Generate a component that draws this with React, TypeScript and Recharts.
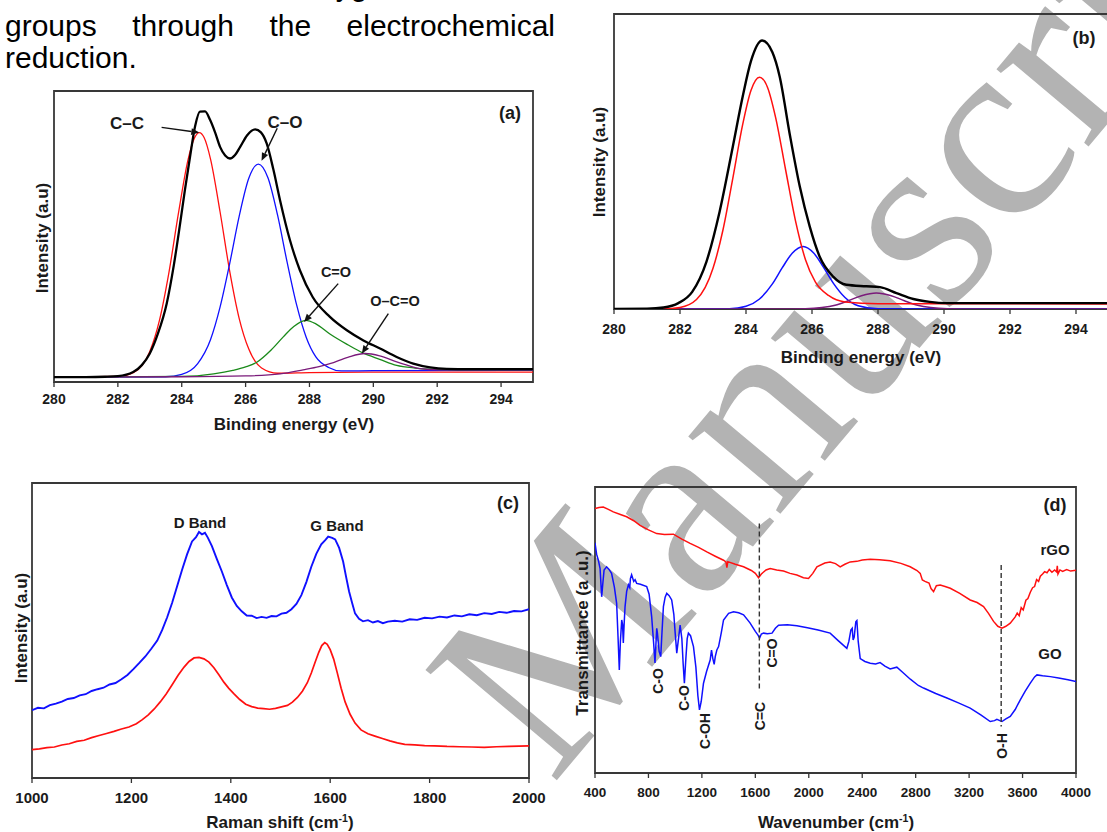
import React from 'react';
import { LineChart, Line, XAxis, YAxis, ReferenceArea, ReferenceLine } from 'recharts';

type Pt = [number, number];

const SANS = "'Liberation Sans', Arial, sans-serif";

// ---- (a) XPS C1s, GO : binding energy (eV) vs intensity (a.u., 0-100 of frame)
const xpsTicks = [280, 282, 284, 286, 288, 290, 292, 294];

const aEnvelope: Pt[] = [
  [280, 1.7], [281, 1.7], [281.6, 1.8], [282, 2.0], [282.48, 3.4], [282.75, 5.8], [283, 9.8], [283.25, 16.5],
  [283.53, 27], [283.75, 40], [283.95, 54.5], [284.1, 66], [284.26, 77.4], [284.42, 88], [284.57, 92.9],
  [284.73, 93], [284.89, 90], [285.05, 85.6], [285.2, 80.8], [285.36, 77.8], [285.51, 76.8], [285.67, 78],
  [285.83, 80.8], [286.05, 84.8], [286.3, 86.8], [286.48, 85.8], [286.66, 82], [286.87, 73], [287.08, 62.4],
  [287.39, 48.7], [287.7, 38.4], [288.1, 29.2], [288.64, 22.4], [289.17, 17.8], [289.69, 14.3], [290.21, 11.5],
  [290.73, 8.6], [291.25, 6.3], [291.78, 5.0], [292.3, 4.5], [293, 4.4], [295, 4.4],
];
const aCC: Pt[] = [
  [280, 1.7], [282, 1.9], [282.5, 3.3], [283, 10.5], [283.3, 21.1], [283.6, 37.7], [283.9, 58.2], [284.2, 76.5],
  [284.4, 83.9], [284.55, 85.7], [284.7, 84.0], [284.9, 76.7], [285.2, 58.5], [285.5, 38.2], [285.8, 21.8],
  [286.1, 11.3], [286.5, 4.8], [287, 3.0], [288, 3.2], [290, 3.4], [295, 3.4],
];
const aCO: Pt[] = [
  [280, 1.7], [283.5, 1.8], [284, 2.6], [284.5, 6.3], [284.9, 14.5], [285.2, 25.7], [285.5, 40.6], [285.8, 57.0],
  [286.1, 70.0], [286.4, 74.9], [286.7, 70.2], [287.0, 57.4], [287.3, 41.2], [287.6, 26.4], [287.9, 15.3],
  [288.2, 8.6], [288.6, 5.0], [289, 3.8], [290, 3.9], [295, 4.0],
];
const aCdO: Pt[] = [
  [280, 1.7], [284, 1.9], [285, 2.8], [285.6, 4.0], [286.0, 5.2], [286.35, 6.8], [286.8, 11.0], [287.18, 15.5],
  [287.5, 19.0], [287.88, 21.2], [288.2, 20.0], [288.64, 16.5], [289.2, 12.8], [289.69, 9.9], [290.2, 7.8],
  [290.73, 5.7], [291.3, 4.8], [291.78, 4.4], [292.5, 4.2], [295, 4.2],
];
const aOCO: Pt[] = [
  [280, 1.7], [284, 1.8], [286, 2.1], [287.08, 2.8], [287.8, 4.2], [288.3, 5.3], [288.64, 6.3], [289.2, 8.5],
  [289.74, 9.8], [290.2, 9.0], [290.73, 6.9], [291.1, 5.6], [291.46, 4.6], [292, 4.2], [295, 4.2],
];

// ---- (b) XPS C1s, rGO
const bEnvelope: Pt[] = [
  [280, 0], [281, 0.1], [281.5, 0.5], [281.95, 2.0], [282.37, 5.8], [282.8, 16], [283.2, 33], [283.6, 55],
  [283.9, 72], [284.15, 84], [284.49, 91], [284.8, 87], [285.02, 78.8], [285.32, 59.6], [285.63, 41.5],
  [285.93, 28], [286.23, 17.8], [286.64, 11.0], [287.04, 8.2], [287.65, 7.7], [288.06, 7.4], [288.56, 5.4],
  [289.07, 3.4], [289.57, 2.4], [290.08, 2.0], [295, 2.0],
];
const bCC: Pt[] = [
  [280, 0], [281.5, 0], [282, 0.5], [282.5, 3.2], [283, 13.8], [283.3, 26.7], [283.6, 44.3], [283.9, 62.6],
  [284.15, 74.1], [284.41, 78.6], [284.65, 75.2], [284.9, 64.8], [285.2, 47.2], [285.5, 29.9], [285.8, 16.8],
  [286.1, 9.2], [286.5, 4.6], [287, 2.4], [288, 1.8], [295, 1.7],
];
const bCO: Pt[] = [
  [280, 0], [283.5, 0.1], [284, 0.9], [284.4, 3.3], [284.8, 8.5], [285.1, 14.0], [285.4, 18.9], [285.73, 21.2],
  [286.05, 19.0], [286.35, 14.1], [286.65, 8.7], [287, 3.9], [287.4, 1.1], [288, 0.1], [289, 0], [295, 0],
];
const bCdO: Pt[] = [
  [280, 0], [285, 0], [285.8, 0.1], [286.3, 0.5], [286.7, 1.3], [287.1, 2.8], [287.5, 4.5], [287.95, 5.4],
  [288.4, 4.5], [288.8, 2.8], [289.2, 1.3], [289.6, 0.5], [290.1, 0.1], [291, 0], [295, 0],
];

// ---- (c) Raman
const ramanTicks = [1000, 1200, 1400, 1600, 1800, 2000];
const ramanGO: Pt[] = [
  [1000, 23.0], [1012, 23.8], [1024, 23.6], [1036, 24.7], [1048, 25.2], [1060, 25.9], [1072, 26.8], [1084, 27.1],
  [1096, 28.0], [1108, 28.4], [1120, 29.5], [1132, 30.1], [1144, 30.6], [1156, 31.7], [1168, 32.2], [1180, 33.5],
  [1192, 34.9], [1204, 36.9], [1216, 39.0], [1228, 41.2], [1240, 43.8], [1252, 46.6], [1262, 50.2], [1272, 54.5],
  [1282, 59.4], [1292, 65.0], [1302, 70.6], [1312, 75.8], [1322, 80.2], [1330, 81.6], [1336, 83.4], [1342, 82.6],
  [1348, 83.1], [1354, 81.4], [1362, 78.6], [1372, 74.2], [1382, 70.0], [1392, 65.4], [1402, 61.2], [1412, 58.3],
  [1422, 56.5], [1432, 55.1], [1442, 55.0], [1452, 54.2], [1462, 54.6], [1472, 54.3], [1482, 54.9], [1492, 54.8],
  [1502, 55.7], [1512, 56.0], [1522, 57.2], [1532, 59.0], [1542, 62.0], [1552, 66.4], [1562, 71.6], [1572, 76.0],
  [1582, 79.2], [1590, 80.6], [1596, 81.8], [1604, 81.4], [1610, 80.9], [1618, 78.0], [1626, 73.4], [1632, 68.2],
  [1638, 63.2], [1644, 59.4], [1650, 55.8], [1658, 54.0], [1666, 53.1], [1676, 53.5], [1686, 52.7], [1696, 53.2],
  [1706, 52.5], [1716, 53.0], [1730, 53.3], [1745, 53.0], [1760, 53.8], [1775, 53.6], [1790, 54.3], [1805, 54.1],
  [1820, 54.7], [1835, 54.4], [1850, 55.1], [1865, 54.8], [1880, 55.5], [1895, 55.2], [1910, 55.9], [1925, 55.6],
  [1940, 56.3], [1955, 56.0], [1970, 56.6], [1985, 56.5], [2000, 57.2],
];
const ramanRGO: Pt[] = [
  [1000, 9.6], [1015, 9.9], [1030, 10.3], [1045, 10.5], [1060, 11.2], [1075, 11.6], [1090, 12.4], [1105, 12.8],
  [1120, 13.7], [1135, 14.4], [1150, 15.1], [1165, 15.8], [1180, 16.6], [1195, 17.3], [1210, 18.4], [1222, 19.8],
  [1234, 21.4], [1246, 23.4], [1258, 25.8], [1270, 28.5], [1282, 31.6], [1294, 34.8], [1306, 37.6], [1316, 39.5],
  [1326, 40.7], [1336, 40.9], [1346, 40.4], [1356, 39.3], [1366, 37.4], [1376, 35.0], [1386, 32.5], [1396, 30.4],
  [1406, 28.6], [1418, 26.6], [1430, 25.0], [1442, 24.2], [1454, 23.7], [1466, 23.5], [1478, 23.3], [1490, 23.6],
  [1502, 24.1], [1514, 24.6], [1524, 25.7], [1534, 27.3], [1544, 29.4], [1554, 32.3], [1562, 35.6], [1570, 39.4],
  [1577, 42.6], [1583, 44.9], [1589, 45.9], [1594, 45.3], [1600, 43.5], [1607, 40.3], [1614, 35.8], [1622, 30.4],
  [1630, 25.8], [1640, 21.6], [1650, 18.6], [1662, 16.3], [1676, 15.0], [1690, 14.2], [1705, 13.4], [1720, 12.6],
  [1735, 11.9], [1750, 11.4], [1770, 11.2], [1790, 11.0], [1810, 10.9], [1835, 10.7], [1860, 10.6], [1885, 10.5],
  [1910, 10.4], [1935, 10.6], [1960, 10.7], [1980, 10.8], [2000, 10.9],
];

// ---- (d) FTIR
const ftirTicks = [400, 800, 1200, 1600, 2000, 2400, 2800, 3200, 3600, 4000];
const ftirRGO: Pt[] = [
  [400, 92.5], [430, 92.8], [462, 93.0], [500, 92.2], [537, 91.3], [590, 90.4], [637, 89.6], [690, 88.2],
  [737, 86.6], [800, 85.0], [862, 83.7], [920, 83.4], [987, 83.5], [1050, 81.8], [1112, 80.3], [1175, 78.9],
  [1237, 77.3], [1300, 75.8], [1362, 74.4], [1380, 73.8], [1387, 71.8], [1394, 73.9], [1450, 73.0], [1512, 72.1],
  [1570, 70.8], [1600, 69.8], [1624, 68.3], [1645, 69.6], [1680, 71.0], [1711, 71.5], [1760, 71.0], [1811, 70.6],
  [1860, 69.8], [1911, 69.2], [1960, 68.3], [1998, 68.0], [2030, 69.8], [2061, 72.1], [2120, 73.4], [2160, 73.8],
  [2200, 73.2], [2235, 72.1], [2270, 73.0], [2310, 73.8], [2360, 74.0], [2400, 74.5], [2460, 74.7], [2530, 74.6],
  [2609, 74.2], [2690, 73.3], [2759, 72.1], [2810, 70.8], [2834, 69.8], [2850, 67.5], [2870, 67.0], [2900, 66.4],
  [2915, 64.5], [2934, 63.4], [2955, 65.5], [2984, 65.7], [3020, 65.2], [3059, 64.6], [3130, 62.8], [3208, 60.5],
  [3260, 59.6], [3308, 58.2], [3345, 55.8], [3383, 53.0], [3415, 51.3], [3446, 50.6], [3475, 51.3], [3508, 52.4],
  [3545, 54.6], [3560, 55.9], [3575, 55.0], [3590, 57.8], [3605, 57.0], [3625, 60.4], [3640, 61.0], [3658, 63.2],
  [3675, 64.8], [3690, 65.2], [3705, 67.6], [3720, 67.0], [3733, 68.8], [3750, 69.6], [3765, 70.4], [3783, 70.0],
  [3800, 71.2], [3820, 70.2], [3840, 71.0], [3855, 70.3], [3860, 72.4], [3865, 69.6], [3880, 71.0], [3900, 70.5],
  [3930, 71.1], [3960, 70.6], [4000, 70.9],
];
const ftirGO: Pt[] = [
  [400, 80.5], [412, 76.5], [425, 74.4], [438, 71.5], [450, 61.6], [458, 66.0], [468, 71.0], [487, 72.1],
  [505, 71.2], [524, 69.8], [545, 65.0], [562, 59.3], [572, 48.0], [582, 36.0], [590, 46.0], [600, 53.5],
  [606, 52.0], [612, 45.5], [618, 52.0], [625, 58.2], [637, 63.5], [650, 65.8], [660, 64.8], [665, 68.0],
  [674, 69.3], [690, 67.0], [700, 67.6], [712, 66.3], [740, 66.0], [787, 65.2], [805, 62.5], [824, 54.7],
  [838, 46.0], [849, 38.5], [857, 46.0], [862, 50.6], [867, 49.0], [880, 42.5], [892, 40.7], [900, 48.0],
  [912, 58.2], [925, 61.5], [937, 62.8], [955, 62.0], [974, 60.5], [990, 55.5], [1000, 49.0], [1012, 41.9],
  [1025, 47.0], [1037, 51.7], [1050, 47.0], [1060, 38.0], [1069, 31.4], [1080, 40.0], [1090, 47.0], [1099, 48.9],
  [1115, 48.0], [1137, 44.2], [1155, 37.0], [1170, 27.0], [1182, 22.1], [1195, 25.0], [1212, 31.4], [1235, 35.5],
  [1262, 39.5], [1272, 43.0], [1282, 40.0], [1292, 38.0], [1300, 40.7], [1312, 43.0], [1325, 44.2], [1345, 49.0],
  [1362, 53.5], [1400, 55.8], [1437, 56.4], [1475, 56.0], [1512, 55.3], [1560, 52.5], [1600, 49.5], [1620, 48.2],
  [1632, 47.2], [1645, 48.6], [1662, 48.9], [1690, 48.7], [1725, 48.9], [1750, 50.6], [1774, 51.7], [1840, 51.8],
  [1911, 51.5], [1990, 50.8], [2070, 50.0], [2160, 48.9], [2220, 46.3], [2285, 43.6], [2300, 46.0], [2315, 50.0],
  [2325, 50.6], [2332, 46.5], [2340, 47.5], [2352, 52.9], [2360, 53.3], [2370, 46.0], [2385, 40.0], [2420, 39.0],
  [2460, 38.4], [2500, 38.1], [2534, 38.6], [2570, 37.4], [2609, 36.4], [2659, 37.0], [2700, 35.3], [2760, 32.8],
  [2820, 30.6], [2859, 29.7], [2950, 27.8], [3034, 26.2], [3120, 24.5], [3208, 22.7], [3290, 20.2], [3358, 18.0],
  [3390, 18.3], [3408, 18.8], [3430, 18.3], [3446, 18.0], [3475, 18.9], [3508, 19.8], [3545, 22.2], [3583, 25.6],
  [3620, 28.6], [3658, 31.4], [3690, 33.6], [3708, 34.3], [3750, 34.0], [3808, 33.7], [3870, 33.2], [3940, 32.6],
  [4000, 32.0],
];

const toRows = (arr: Pt[]) => arr.map(([x, y]) => ({ x, y }));

type Series = { pts: Pt[]; color: string; width: number; curve?: 'monotone' | 'linear' };
type Box = { left: number; top: number; w: number; h: number };

const SIDE = 24; // room for the edge tick labels

const ArrowShape = (p: any) => {
  const { x1, y1, x2, y2 } = p;
  const ang = Math.atan2(y2 - y1, x2 - x1);
  const L = 8;
  const W = 3.4;
  const bx = x2 - L * Math.cos(ang);
  const by = y2 - L * Math.sin(ang);
  const nx = -Math.sin(ang) * W;
  const ny = Math.cos(ang) * W;
  return (
    <g>
      <line x1={x1} y1={y1} x2={bx} y2={by} stroke="#111" strokeWidth={1.4} />
      <polygon points={`${x2},${y2} ${bx + nx},${by + ny} ${bx - nx},${by - ny}`} fill="#111" />
    </g>
  );
};

function Frame({ box, xDomain, xTicks, tickSize, tickGap, series, children }: {
  box: Box; xDomain: [number, number]; xTicks: number[]; tickSize: number; tickGap: number;
  series: Series[]; children?: React.ReactNode;
}) {
  return (
    <div style={{ position: 'absolute', left: box.left - SIDE, top: box.top - 4 }}>
      <LineChart width={box.w + 2 * SIDE} height={box.h + 34} margin={{ top: 4, right: SIDE, bottom: 0, left: SIDE }}>
        <XAxis
          type="number"
          dataKey="x"
          domain={xDomain}
          ticks={xTicks}
          allowDataOverflow
          interval={0}
          height={30}
          tickSize={5}
          tickMargin={tickGap}
          axisLine={false}
          tickLine={{ stroke: '#333', strokeWidth: 1.3 }}
          tick={{ fontSize: tickSize, fontWeight: 700, fill: '#1a1a1a', fontFamily: SANS }}
        />
        <YAxis type="number" domain={[0, 100]} hide allowDataOverflow />
        <ReferenceArea
          x1={xDomain[0]} x2={xDomain[1]} y1={0} y2={100}
          fill="none" stroke="#383838" strokeWidth={1.8} ifOverflow="visible"
        />
        {series.map((s, i) => (
          <Line
            key={i}
            data={toRows(s.pts)}
            dataKey="y"
            type={s.curve ?? 'monotone'}
            stroke={s.color}
            strokeWidth={s.width}
            dot={false}
            activeDot={false}
            isAnimationActive={false}
          />
        ))}
        {children}
      </LineChart>
    </div>
  );
}

const Label = ({ x, y, size = 15, rotate = 0, children, family = SANS, weight = 700 }: {
  x: number; y: number; size?: number; rotate?: number; children: React.ReactNode; family?: string; weight?: number;
}) => (
  <div
    style={{
      position: 'absolute', left: x, top: y, transform: `translate(-50%, -50%) rotate(${rotate}deg)`,
      fontSize: size, fontWeight: weight, fontFamily: family, whiteSpace: 'nowrap', lineHeight: 1, color: '#1a1a1a',
    }}
  >
    {children}
  </div>
);

const cm = <>(cm<span style={{ fontSize: '0.62em', verticalAlign: '0.55em' }}>-1</span>)</>;

const RED = '#ff1010';
const BLUE = '#1010ff';

export default function App() {
  return (
    <div style={{ position: 'absolute', left: 0, top: 0, width: 1107, height: 832, overflow: 'hidden', background: '#fff' }}>
      {/* watermark */}
      <svg width={1107} height={832} style={{ position: 'absolute', left: 0, top: 0 }}>
        <text x={552} y={786} transform="rotate(-50 552 786)" fontFamily="'Liberation Serif', serif" fontSize={262} fill="#b3b3b3">
          Manuscript
        </text>
      </svg>

      {/* running text */}
      <div style={{ position: 'absolute', left: 304, top: -29, fontFamily: SANS, fontSize: 30, lineHeight: '30px' }}>oxygen</div>
      <div style={{ position: 'absolute', left: 5, top: 11, width: 550, fontFamily: SANS, fontSize: 30, lineHeight: '30px', textAlign: 'justify', textAlignLast: 'justify' }}>
        groups through the electrochemical
      </div>
      <div style={{ position: 'absolute', left: 5, top: 43, fontFamily: SANS, fontSize: 30, lineHeight: '30px' }}>reduction.</div>

      {/* (a) */}
      <Frame
        box={{ left: 54, top: 91, w: 479, h: 291 }}
        xDomain={[280, 295]} xTicks={xpsTicks} tickSize={14} tickGap={7}
        series={[
          { pts: aCC, color: RED, width: 1.3 },
          { pts: aCO, color: BLUE, width: 1.3 },
          { pts: aCdO, color: '#1a8a1a', width: 1.3 },
          { pts: aOCO, color: '#7a1a7a', width: 1.3 },
          { pts: aEnvelope, color: '#000', width: 2.3 },
        ]}
      >
        <ReferenceLine segment={[{ x: 283.37, y: 87.5 }, { x: 284.55, y: 85.7 }]} ifOverflow="visible" shape={ArrowShape} />
        <ReferenceLine segment={[{ x: 286.99, y: 87.2 }, { x: 286.5, y: 76.0 }]} ifOverflow="visible" shape={ArrowShape} />
        <ReferenceLine segment={[{ x: 288.9, y: 33.8 }, { x: 287.83, y: 20.6 }]} ifOverflow="visible" shape={ArrowShape} />
        <ReferenceLine segment={[{ x: 290.47, y: 23.5 }, { x: 289.64, y: 9.8 }]} ifOverflow="visible" shape={ArrowShape} />
      </Frame>
      <Label x={127} y={123} size={17}>C–C</Label>
      <Label x={285} y={122} size={17}>C–O</Label>
      <Label x={336} y={272} size={14.5}>C=O</Label>
      <Label x={395} y={301} size={14.5}>O–C=O</Label>
      <Label x={510} y={113} size={18}>(a)</Label>
      <Label x={42} y={238} size={17} rotate={-90}>Intensity (a.u)</Label>
      <Label x={294} y={424} size={17}>Binding energy (eV)</Label>

      {/* (b) */}
      <Frame
        box={{ left: 614, top: 14, w: 495, h: 295 }}
        xDomain={[280, 295]} xTicks={xpsTicks} tickSize={14} tickGap={10}
        series={[
          { pts: bCO, color: BLUE, width: 1.5 },
          { pts: bCdO, color: '#7a1a7a', width: 1.5 },
          { pts: bCC, color: RED, width: 1.5 },
          { pts: bEnvelope, color: '#000', width: 2.4 },
        ]}
      />
      <Label x={1084} y={38} size={18}>(b)</Label>
      <Label x={599} y={162} size={17} rotate={-90}>Intensity (a.u)</Label>
      <Label x={861} y={357} size={17}>Binding energy (eV)</Label>

      {/* (c) */}
      <Frame
        box={{ left: 32, top: 483, w: 497, h: 295 }}
        xDomain={[1000, 2000]} xTicks={ramanTicks} tickSize={15} tickGap={9}
        series={[
          { pts: ramanGO, color: BLUE, width: 1.9, curve: 'linear' },
          { pts: ramanRGO, color: RED, width: 1.7, curve: 'linear' },
        ]}
      />
      <Label x={200} y={522} size={15}>D Band</Label>
      <Label x={337} y={525} size={15}>G Band</Label>
      <Label x={508} y={503} size={18}>(c)</Label>
      <Label x={21} y={628} size={17} rotate={-90}>Intensity (a.u)</Label>
      <Label x={280} y={822} size={17}>Raman shift {cm}</Label>

      {/* (d) */}
      <Frame
        box={{ left: 595, top: 487, w: 481, h: 286 }}
        xDomain={[400, 4000]} xTicks={ftirTicks} tickSize={13.5} tickGap={9}
        series={[
          { pts: ftirRGO, color: RED, width: 1.5, curve: 'linear' },
          { pts: ftirGO, color: BLUE, width: 1.5, curve: 'linear' },
        ]}
      >
        <ReferenceLine segment={[{ x: 1630, y: 87.2 }, { x: 1630, y: 29.1 }]} ifOverflow="visible" stroke="#333" strokeWidth={1.4} strokeDasharray="5 3" />
        <ReferenceLine segment={[{ x: 3440, y: 72.7 }, { x: 3440, y: 16.3 }]} ifOverflow="visible" stroke="#333" strokeWidth={1.4} strokeDasharray="5 3" />
      </Frame>
      <Label x={1055} y={505} size={18}>(d)</Label>
      <Label x={1055} y={549} size={15}>rGO</Label>
      <Label x={1050} y={653} size={15}>GO</Label>
      <Label x={658} y={681} size={14} rotate={-90}>C-O</Label>
      <Label x={684} y={698} size={14} rotate={-90}>C-O</Label>
      <Label x={705} y={731} size={14} rotate={-90}>C-OH</Label>
      <Label x={760} y={716} size={14} rotate={-90}>C=C</Label>
      <Label x={772} y={653} size={14} rotate={-90}>C=O</Label>
      <Label x={1002} y={746} size={14} rotate={-90}>O-H</Label>
      <Label x={582} y={633} size={17} rotate={-90}>Transmittance (a .u.)</Label>
      <Label x={836} y={822} size={17}>Wavenumber {cm}</Label>
    </div>
  );
}
